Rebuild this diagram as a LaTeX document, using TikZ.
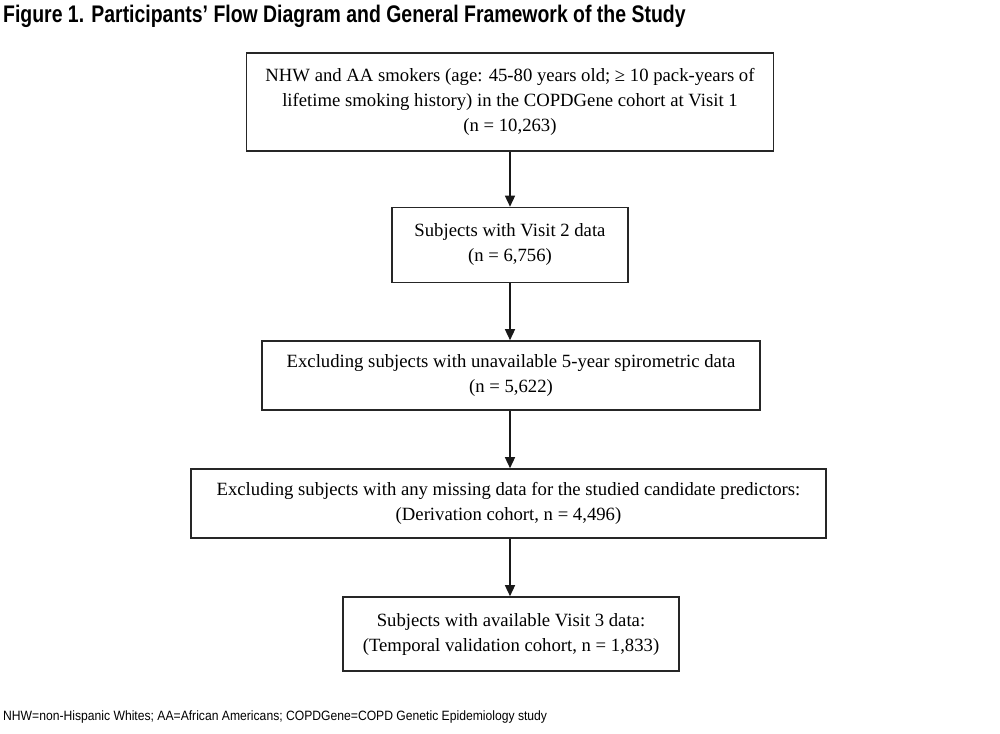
\documentclass[tikz,border=0pt]{standalone}
\usepackage{fontspec}
\setmainfont{Liberation Serif}
\newfontfamily\narrowsans[FakeStretch=0.81]{Liberation Sans}
\newfontfamily\footsans[FakeStretch=0.9]{Liberation Sans}
\usetikzlibrary{arrows.meta}
\begin{document}
\begin{tikzpicture}[x=1pt,y=-1pt,
  flowbox/.style={draw=black!85, line width=1.6pt, align=center,
    font=\fontsize{18.7}{25}\selectfont, inner sep=0pt, anchor=center},
  flowarrow/.style={-{Triangle[width=10pt,length=11pt]}, line width=1.4pt, draw=black!90}]
\useasboundingbox (0,0) rectangle (1000,733);
\fill[white] (0,0) rectangle (1000,733);
\node[anchor=north west, inner sep=0pt, font=\narrowsans\bfseries\fontsize{24}{28}\selectfont] (title) at (3,5)
  {Figure 1. Participants’ Flow Diagram and General Framework of the Study};
\node[flowbox, minimum width=527, minimum height=98] (b1) at (510,102)
  {NHW and AA smokers (age: 45-80 years old; ≥ 10 pack-years of\\
   lifetime smoking history) in the COPDGene cohort at Visit 1\\
   (n = 10,263)};
\node[flowbox, minimum width=236, minimum height=75] (b2) at (510,245)
  {Subjects with Visit 2 data\\(n = 6,756)};
\node[flowbox, minimum width=498, minimum height=69] (b3) at (511,375.5)
  {Excluding subjects with unavailable 5-year spirometric data\\(n = 5,622)};
\node[flowbox, minimum width=635, minimum height=69] (b4) at (508.5,503.5)
  {Excluding subjects with any missing data for the studied candidate predictors:\\(Derivation cohort, n = 4,496)};
\node[flowbox, minimum width=336, minimum height=74] (b5) at (511,634)
  {Subjects with available Visit 3 data:\\(Temporal validation cohort, n = 1,833)};
\draw[flowarrow] (b1.south) -- (b1.south |- b2.north);
\draw[flowarrow] (b2.south) -- (b2.south |- b3.north);
\draw[flowarrow] (b2.south |- b3.south) -- (b2.south |- b4.north);
\draw[flowarrow] (b2.south |- b4.south) -- (b2.south |- b5.north);
\node[anchor=west, inner sep=0pt, font=\footsans\fontsize{13.5}{16}\selectfont] (foot) at (3,717)
  {NHW=non-Hispanic Whites; AA=African Americans; COPDGene=COPD Genetic Epidemiology study};
\end{tikzpicture}
\end{document}
